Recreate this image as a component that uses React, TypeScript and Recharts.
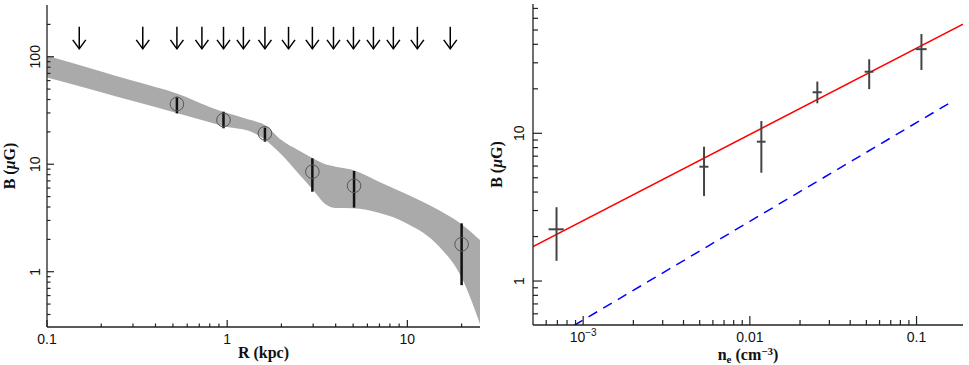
import React from 'react';
import { ComposedChart, Area, Scatter, Line, XAxis, YAxis, ErrorBar, Label } from 'recharts';

// ---- left panel: B vs R ----
const bandR = [0.1, 0.2, 0.3, 0.53, 0.8, 1.0, 1.3, 1.6, 2.0, 2.5, 3.0, 3.5, 4.0, 5.0, 7.0, 10, 15, 20, 25.3];
const bandLow = [64.0, 46.7, 38.7, 29.8, 24.6, 22.2, 20.6, 17.2, 12.3, 8.1, 5.75, 4.26, 3.91, 3.89, 3.51, 2.8, 1.72, 0.883, 0.326];
const bandHigh = [102, 72.9, 59.7, 45.2, 34.1, 29.9, 26.2, 23.4, 16.8, 13.4, 11.3, 10.0, 9.5, 8.83, 6.84, 5.23, 3.73, 2.77, 1.97];

const obsR = [0.526, 0.954, 1.62, 2.97, 5.06, 20.0];
const obsB = [36.3, 25.8, 19.4, 8.52, 6.3, 1.8];
const obsErrLo = [6.6, 4.2, 3.2, 2.97, 2.35, 1.05];
const obsErrHi = [6.1, 5.0, 2.5, 2.84, 2.36, 1.02];

const limitR = [0.151, 0.34, 0.526, 0.724, 0.954, 1.23, 1.62, 2.19, 2.97, 3.89, 5.02, 6.48, 8.36, 11.36, 17.3];
const limitB = [150, 150, 150, 150, 150, 150, 150, 150, 150, 150, 150, 150, 150, 150, 150];

const rMajor = [0.1, 1, 10];
const rMinor = [0.2, 0.3, 0.4, 0.5, 0.6, 0.7, 0.8, 0.9, 2, 3, 4, 5, 6, 7, 8, 9, 20];
const bLeftMajor = [1, 10, 100];
const bLeftMinor = [0.4, 0.5, 0.6, 0.7, 0.8, 0.9, 2, 3, 4, 5, 6, 7, 8, 9, 20, 30, 40, 50, 60, 70, 80, 90, 200];

// ---- right panel: B vs n_e ----
const neObs = [6.92e-4, 5.31e-3, 0.01172, 0.0254, 0.052, 0.107];
const neErr = [7.2e-5, 3.3e-4, 7.0e-4, 1.6e-3, 3.2e-3, 8.0e-3];
const bObs = [2.24, 5.94, 8.77, 18.95, 26.1, 37.1];
const bErrLo = [0.87, 2.18, 3.36, 2.99, 6.2, 10.3];
const bErrHi = [0.92, 2.17, 3.33, 3.45, 5.6, 9.9];

const fitNe = [5e-4, 0.19];
const fitB = [1.71, 54.7];
const eqNe = [8.8e-4, 0.157];
const eqB = [0.5, 15.97];

const neMajor = [0.001, 0.01, 0.1];
const neMinor = [6e-4, 7e-4, 8e-4, 9e-4, 0.002, 0.003, 0.004, 0.005, 0.006, 0.007, 0.008, 0.009, 0.02, 0.03, 0.04, 0.05, 0.06, 0.07, 0.08, 0.09];
const bRightMajor = [1, 10];
const bRightMinor = [0.6, 0.7, 0.8, 0.9, 2, 3, 4, 5, 6, 7, 8, 9, 20, 30, 40, 50, 60, 70];

const bandData = bandR.map((R, i) => ({ R, band: [bandLow[i], bandHigh[i]] }));
const obsData = obsR.map((R, i) => ({ R, B: obsB[i], err: [obsErrLo[i], obsErrHi[i]] }));
const limitData = limitR.map((R, i) => ({ R, B: limitB[i] }));
const neData = neObs.map((n, i) => ({ n, B: bObs[i], xerr: neErr[i], yerr: [bErrLo[i], bErrHi[i]] }));
const fitData = fitNe.map((n, i) => ({ n, B: fitB[i] }));
const eqData = eqNe.map((n, i) => ({ n, B: eqB[i] }));

const TICK_FONT = '"Liberation Sans", Arial, sans-serif';
const TITLE_FONT = '"Liberation Serif", "Times New Roman", serif';
const FRAME = '#222';

type Side = 'bottom' | 'top' | 'left' | 'right';

const fmt = (v: number) => {
  if (Math.abs(v - 0.001) < 1e-9) {
    return (
      <>
        10<tspan dy={-6} fontSize={10}>−3</tspan>
      </>
    );
  }
  return String(v);
};

// inward ticks, longer on decades; labels only on decades for bottom/left
const axisTick = (side: Side, majors: number[], majorLen: number, minorLen: number, gap: number) => (props: any) => {
  const { x, y, payload } = props;
  const v = payload.value;
  const isMajor = majors.some((m) => Math.abs(v / m - 1) < 1e-6);
  const len = isMajor ? majorLen : minorLen;
  let line;
  if (side === 'bottom') line = <line x1={x} y1={y} x2={x} y2={y - len} />;
  else if (side === 'top') line = <line x1={x} y1={y} x2={x} y2={y + len} />;
  else if (side === 'left') line = <line x1={x} y1={y} x2={x + len} y2={y} />;
  else line = <line x1={x} y1={y} x2={x - len} y2={y} />;
  let text = null;
  if (isMajor && side === 'bottom') {
    text = (
      <text x={x} y={y + gap} textAnchor="middle" fontFamily={TICK_FONT} fontSize={14} fill="#111">
        {fmt(v)}
      </text>
    );
  }
  if (isMajor && side === 'left') {
    text = (
      <text
        x={x - gap}
        y={y}
        transform={`rotate(-90, ${x - gap}, ${y})`}
        textAnchor="middle"
        dominantBaseline="central"
        fontFamily={TICK_FONT}
        fontSize={14}
        fill="#111"
      >
        {fmt(v)}
      </text>
    );
  }
  return (
    <g>
      <g stroke={FRAME} strokeWidth={1.2}>{line}</g>
      {text}
    </g>
  );
};

const yTitle = (dx: number) => (p: any) => {
  const { x, y, height } = p.viewBox;
  const cx = x + dx;
  const cy = y + height / 2;
  return (
    <text
      x={cx}
      y={cy}
      transform={`rotate(-90, ${cx}, ${cy})`}
      textAnchor="middle"
      dominantBaseline="central"
      fontFamily={TITLE_FONT}
      fontWeight="bold"
      fontSize={16}
      fill="#111"
    >
      B (<tspan fontStyle="italic">μ</tspan>G)
    </text>
  );
};

const Arrow = (p: any) => (
  <g stroke="#000" strokeWidth={1.5} fill="none">
    <line x1={p.cx} y1={p.cy - 11} x2={p.cx} y2={p.cy + 11} />
    <polyline points={`${p.cx - 6.5},${p.cy + 2} ${p.cx},${p.cy + 11} ${p.cx + 6.5},${p.cy + 2}`} />
  </g>
);

const Ring = (p: any) => <circle cx={p.cx} cy={p.cy} r={6.8} fill="none" stroke="#555" strokeWidth={1} />;
const NoMark = () => <g />;

const LeftPanel = () => (
  <ComposedChart width={480} height={365} data={bandData} margin={{ top: 5, right: 0, bottom: 0, left: 0 }}>
    <XAxis
      dataKey="R"
      type="number"
      scale="log"
      domain={[0.1, 25.3]}
      allowDataOverflow
      ticks={[...rMajor, ...rMinor]}
      interval={0}
      height={38}
      tickSize={0}
      tickMargin={0}
      tickLine={false}
      axisLine={{ stroke: FRAME, strokeWidth: 1.3 }}
      tick={axisTick('bottom', rMajor, 7, 3.5, 17)}
    >
      <Label
        content={(p: any) => (
          <text
            x={p.viewBox.x + p.viewBox.width / 2}
            y={p.viewBox.y + 31}
            textAnchor="middle"
            fontFamily={TITLE_FONT}
            fontWeight="bold"
            fontSize={16}
            fill="#111"
          >
            R (kpc)
          </text>
        )}
      />
    </XAxis>
    <XAxis
      xAxisId="top"
      orientation="top"
      dataKey="R"
      type="number"
      scale="log"
      domain={[0.1, 25.3]}
      allowDataOverflow
      ticks={[...rMajor, ...rMinor]}
      interval={0}
      height={0}
      tickSize={0}
      tickMargin={0}
      tickLine={false}
      axisLine={{ stroke: FRAME, strokeWidth: 1.3 }}
      tick={axisTick('top', rMajor, 7, 3.5, 0)}
    />
    <YAxis
      dataKey="B"
      type="number"
      scale="log"
      domain={[0.306, 303]}
      allowDataOverflow
      ticks={[...bLeftMajor, ...bLeftMinor]}
      interval={0}
      width={47}
      tickSize={0}
      tickMargin={0}
      tickLine={false}
      axisLine={{ stroke: FRAME, strokeWidth: 1.3 }}
      tick={axisTick('left', bLeftMajor, 7, 3.5, 12)}
    >
      <Label content={yTitle(9)} />
    </YAxis>
    <YAxis
      yAxisId="right"
      orientation="right"
      dataKey="B"
      type="number"
      scale="log"
      domain={[0.306, 303]}
      allowDataOverflow
      ticks={[...bLeftMajor, ...bLeftMinor]}
      interval={0}
      width={0}
      tickSize={0}
      tickMargin={0}
      tickLine={false}
      axisLine={{ stroke: FRAME, strokeWidth: 1.3 }}
      tick={axisTick('right', bLeftMajor, 7, 3.5, 0)}
    />
    <Area
      dataKey="band"
      type="monotone"
      fill="#aaaaaa"
      fillOpacity={1}
      stroke="none"
      isAnimationActive={false}
    />
    <Scatter data={limitData} shape={Arrow} isAnimationActive={false} />
    <Scatter data={obsData} shape={Ring} isAnimationActive={false}>
      <ErrorBar dataKey="err" direction="y" width={0} stroke="#111" strokeWidth={2.5} isAnimationActive={false} />
    </Scatter>
  </ComposedChart>
);

const RightPanel = () => (
  <ComposedChart width={489} height={365} margin={{ top: 4, right: 6, bottom: 0, left: 0 }}>
    <XAxis
      dataKey="n"
      type="number"
      scale="log"
      domain={[5e-4, 0.19]}
      allowDataOverflow
      ticks={[...neMajor, ...neMinor]}
      interval={0}
      height={40}
      tickSize={0}
      tickMargin={0}
      tickLine={false}
      axisLine={{ stroke: FRAME, strokeWidth: 1.3 }}
      tick={axisTick('bottom', neMajor, 9, 5, 17)}
    >
      <Label
        content={(p: any) => (
          <text
            x={p.viewBox.x + p.viewBox.width / 2}
            y={p.viewBox.y + 35}
            textAnchor="middle"
            fontFamily={TITLE_FONT}
            fontWeight="bold"
            fontSize={16}
            fill="#111"
          >
            n<tspan dy={3} fontSize={11}>e</tspan>
            <tspan dy={-3}> (cm</tspan>
            <tspan dy={-5} fontSize={11}>−3</tspan>
            <tspan dy={5}>)</tspan>
          </text>
        )}
      />
    </XAxis>
    <XAxis
      xAxisId="top"
      orientation="top"
      dataKey="n"
      type="number"
      scale="log"
      domain={[5e-4, 0.19]}
      allowDataOverflow
      ticks={[...neMajor, ...neMinor]}
      interval={0}
      height={0}
      tickSize={0}
      tickMargin={0}
      tickLine={false}
      axisLine={{ stroke: FRAME, strokeWidth: 1.3 }}
      tick={axisTick('top', neMajor, 9, 5, 0)}
    />
    <YAxis
      dataKey="B"
      type="number"
      scale="log"
      domain={[0.504, 75]}
      allowDataOverflow
      ticks={[...bRightMajor, ...bRightMinor]}
      interval={0}
      width={53}
      tickSize={0}
      tickMargin={0}
      tickLine={false}
      axisLine={{ stroke: FRAME, strokeWidth: 1.3 }}
      tick={axisTick('left', bRightMajor, 9, 5, 14)}
    >
      <Label content={yTitle(16)} />
    </YAxis>
    <YAxis
      yAxisId="right"
      orientation="right"
      dataKey="B"
      type="number"
      scale="log"
      domain={[0.504, 75]}
      allowDataOverflow
      ticks={[...bRightMajor, ...bRightMinor]}
      interval={0}
      width={0}
      tickSize={0}
      tickMargin={0}
      tickLine={false}
      axisLine={{ stroke: FRAME, strokeWidth: 1.3 }}
      tick={axisTick('right', bRightMajor, 9, 5, 0)}
    />
    <Line data={eqData} dataKey="B" type="linear" stroke="#0000ff" strokeWidth={1.5} strokeDasharray="10 7" dot={false} isAnimationActive={false} />
    <Line data={fitData} dataKey="B" type="linear" stroke="#ff0000" strokeWidth={1.5} dot={false} isAnimationActive={false} />
    <Scatter data={neData} shape={NoMark} isAnimationActive={false}>
      <ErrorBar dataKey="yerr" direction="y" width={0} stroke="#444" strokeWidth={2} isAnimationActive={false} />
      <ErrorBar dataKey="xerr" direction="x" width={0} stroke="#444" strokeWidth={2} isAnimationActive={false} />
    </Scatter>
  </ComposedChart>
);

export default function App() {
  return (
    <div style={{ position: 'absolute', left: 0, top: 0, width: 969, height: 365, background: '#fff' }}>
      <div style={{ position: 'absolute', left: 0, top: 0 }}>
        <LeftPanel />
      </div>
      <div style={{ position: 'absolute', left: 480, top: 0 }}>
        <RightPanel />
      </div>
    </div>
  );
}
